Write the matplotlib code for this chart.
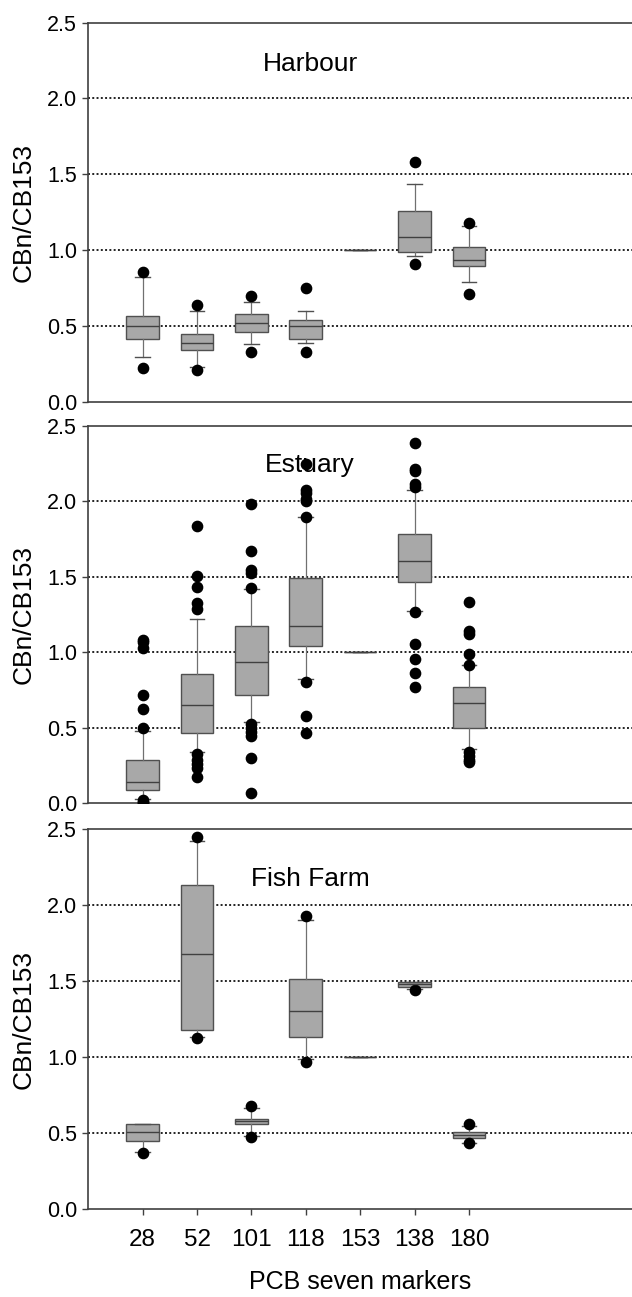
import matplotlib
matplotlib.use("Agg")
import matplotlib.pyplot as plt

plt.rcParams['font.family'] = ['Liberation Sans', 'DejaVu Sans']

markers = ["28", "52", "101", "118", "153", "138", "180"]
sites = ["Harbour", "Estuary", "Fish Farm"]

# Harbour
harbour_q1 = [0.411, 0.341, 0.457, 0.416, 1.0, 0.985, 0.895]
harbour_med = [0.499, 0.389, 0.519, 0.499, 1.0, 1.088, 0.934]
harbour_q3 = [0.567, 0.446, 0.580, 0.536, 1.0, 1.256, 1.020]
harbour_wlo = [0.292, 0.226, 0.380, 0.385, 1.0, 0.963, 0.789]
harbour_whi = [0.825, 0.598, 0.657, 0.598, 1.0, 1.436, 1.157]
harbour_out = [[0.853, 0.220], [0.638, 0.211], [0.697, 0.330], [0.752, 0.330],
               [], [1.583, 0.908], [1.181, 0.710]]

# Estuary
estuary_q1 = [0.088, 0.463, 0.715, 1.041, 1.0, 1.467, 0.496]
estuary_med = [0.141, 0.649, 0.938, 1.174, 1.0, 1.606, 0.662]
estuary_q3 = [0.285, 0.856, 1.176, 1.489, 1.0, 1.781, 0.770]
estuary_wlo = [0.026, 0.340, 0.536, 0.825, 1.0, 1.273, 0.357]
estuary_whi = [0.479, 1.222, 1.421, 1.893, 1.0, 2.072, 0.916]
estuary_out = [[1.081, 1.066, 1.028, 0.720, 0.622, 0.496, 0.020, 0.010, 0.0],
               [1.838, 1.507, 1.430, 1.328, 1.284, 0.324, 0.290, 0.258, 0.236, 0.177],
               [1.981, 1.673, 1.545, 1.527, 1.425, 0.523, 0.496, 0.470, 0.443, 0.298, 0.066],
               [2.250, 2.074, 2.052, 2.015, 2.000, 1.893, 0.805, 0.578, 0.463],
               [],
               [2.387, 2.213, 2.202, 2.114, 2.092, 1.270, 1.055, 0.958, 0.865, 0.772],
               [1.335, 1.141, 1.121, 0.989, 0.916, 0.342, 0.313, 0.287, 0.276]]

# Fish Farm
farm_q1 = [0.447, 1.179, 0.561, 1.135, 1.0, 1.464, 0.471]
farm_med = [0.508, 1.676, 0.578, 1.306, 1.0, 1.481, 0.491]
farm_q3 = [0.561, 2.130, 0.596, 1.512, 1.0, 1.497, 0.511]
farm_wlo = [0.379, 1.133, 0.484, 0.986, 1.0, 1.446, 0.438]
farm_whi = [0.561, 2.419, 0.666, 1.902, 1.0, 1.497, 0.550]
farm_out = [[0.368], [2.447, 1.124], [0.679, 0.475], [1.930, 0.966],
            [], [1.440], [0.561, 0.434]]

panels = [
    (harbour_q1, harbour_med, harbour_q3, harbour_wlo, harbour_whi, harbour_out),
    (estuary_q1, estuary_med, estuary_q3, estuary_wlo, estuary_whi, estuary_out),
    (farm_q1, farm_med, farm_q3, farm_wlo, farm_whi, farm_out),
]

fig = plt.figure(figsize=(6.32, 12.97), dpi=100)
rects = [
    [0.1397, 0.6903, 0.8603, 0.2922],
    [0.1397, 0.3806, 0.8603, 0.2911],
    [0.1397, 0.0676, 0.8603, 0.2932],
]
title_y = [0.873, 0.878, 0.851]

spine_col = '#404040'
for i, (q1, med, q3, wlo, whi, out) in enumerate(panels):
    ax = fig.add_axes(rects[i])
    stats = []
    for k in range(len(markers)):
        stats.append(dict(q1=q1[k], med=med[k], q3=q3[k], whislo=wlo[k],
                          whishi=whi[k], fliers=out[k], label=markers[k]))
    pos = list(range(1, len(markers) + 1))
    ax.bxp(stats, positions=pos, widths=0.6, capwidths=0.27, patch_artist=True,
           boxprops=dict(facecolor='#a8a8a8', edgecolor='#505050', linewidth=1.0),
           medianprops=dict(color='#404040', linewidth=1.0),
           whiskerprops=dict(color='#707070', linewidth=0.9),
           capprops=dict(color='#505050', linewidth=1.0),
           flierprops=dict(marker='o', markerfacecolor='black', markeredgecolor='black',
                           markersize=7.4, linestyle='none'),
           zorder=3)
    for g in [0.5, 1.0, 1.5, 2.0]:
        ax.axhline(g, color='#222222', linewidth=1.4, linestyle=(0, (1, 1.2)), zorder=1)
    ax.set_xlim(0, 10)
    ax.set_ylim(0, 2.5)
    ax.set_yticks([0.0, 0.5, 1.0, 1.5, 2.0, 2.5])
    ax.set_yticklabels(['0.0', '0.5', '1.0', '1.5', '2.0', '2.5'], fontsize=15.5)
    ax.tick_params(axis='y', direction='out', length=4, width=1.0, color=spine_col, pad=4)
    ax.set_ylabel('CBn/CB153', fontsize=19, labelpad=8)
    ax.spines['right'].set_visible(False)
    for s in ['left', 'top', 'bottom']:
        ax.spines[s].set_color(spine_col)
        ax.spines[s].set_linewidth(1.2)
    ax.text(0.408, title_y[i], sites[i], transform=ax.transAxes, fontsize=19,
            ha='center', va='baseline', zorder=2)
    if i == 2:
        ax.set_xticks(pos)
        ax.set_xticklabels(markers, fontsize=17.5)
        ax.tick_params(axis='x', direction='out', length=4, width=1.0, color=spine_col, pad=10)
        ax.set_xlabel('PCB seven markers', fontsize=18, labelpad=14)
    else:
        ax.set_xticks([])

fig.savefig('out.png', dpi=100)
